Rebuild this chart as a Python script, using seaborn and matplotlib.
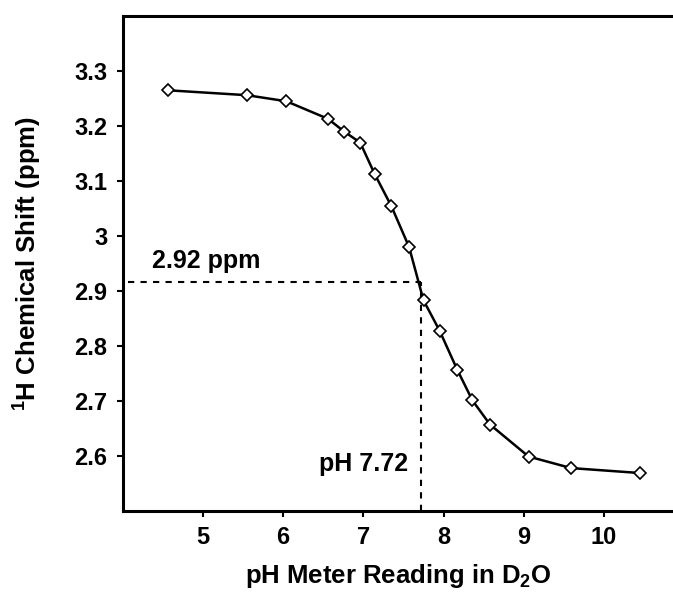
import matplotlib
matplotlib.use("Agg")
import matplotlib.pyplot as plt
import seaborn as sns
import pandas as pd

# Data
ph = [4.56, 5.55, 6.04, 6.56, 6.76, 6.96, 7.14, 7.35, 7.57, 7.75, 7.95,
      8.17, 8.36, 8.58, 9.06, 9.59, 10.45]
shift = [3.265, 3.256, 3.245, 3.213, 3.190, 3.170, 3.113, 3.054, 2.980,
         2.883, 2.828, 2.757, 2.701, 2.657, 2.599, 2.578, 2.569]
pka_ph = 7.72
pka_shift = 2.916
x_ticks = [5, 6, 7, 8, 9, 10]
y_ticks = [2.6, 2.7, 2.8, 2.9, 3.0, 3.1, 3.2, 3.3]
y_tick_labels = ["2.6", "2.7", "2.8", "2.9", "3", "3.1", "3.2", "3.3"]

sns.set_theme(style="ticks")
plt.rcParams["font.family"] = ["Liberation Sans", "DejaVu Sans"]
plt.rcParams["font.weight"] = "bold"
plt.rcParams["mathtext.fontset"] = "custom"
plt.rcParams["mathtext.rm"] = "Liberation Sans:bold"
plt.rcParams["mathtext.it"] = "Liberation Sans:bold"
plt.rcParams["mathtext.bf"] = "Liberation Sans:bold"

df = pd.DataFrame({"pH": ph, "shift": shift})

fig = plt.figure(figsize=(6.73, 5.95), dpi=100)
ax = fig.add_axes([0.1823, 0.1412, 0.8177, 0.8319])

# dashed guide lines
ax.plot([4.07, pka_ph], [pka_shift, pka_shift], color="black", lw=1.5,
        linestyle=(0, (3, 3)), zorder=1)
ax.plot([pka_ph, pka_ph], [2.5, pka_shift], color="black", lw=1.5,
        linestyle=(0, (3, 3)), zorder=1)

sns.lineplot(data=df, x="pH", y="shift", ax=ax, color="black", linewidth=1.8,
             marker="D", markersize=6.3, markerfacecolor="white",
             markeredgecolor="black", markeredgewidth=1.2, zorder=3)

ax.set_xlim(4, 10.86)
ax.set_ylim(2.5, 3.4)
ax.set_xticks(x_ticks)
ax.set_xticklabels([str(t) for t in x_ticks])
ax.set_yticks(y_ticks)
ax.set_yticklabels(y_tick_labels)

for s in ["left", "bottom", "top"]:
    ax.spines[s].set_linewidth(2.2)
    ax.spines[s].set_color("black")
ax.spines["right"].set_visible(False)

ax.tick_params(axis="both", which="major", direction="out", length=4,
               width=1.5, color="black", labelsize=17, pad=7,
               labelcolor="black")
for lab in ax.get_xticklabels() + ax.get_yticklabels():
    lab.set_fontweight("bold")

ax.set_xlabel("pH Meter Reading in D$_2$O", fontsize=18.5, fontweight="bold",
              labelpad=9, color="black")
ax.set_ylabel("$^1$H Chemical Shift (ppm)", fontsize=18.5, fontweight="bold",
              labelpad=22, color="black")

ax.text(4.36, 2.942, "2.92 ppm", fontsize=18, fontweight="bold",
        ha="left", va="baseline", color="black")
ax.text(7.553, 2.572, "pH 7.72", fontsize=18, fontweight="bold",
        ha="right", va="baseline", color="black")

fig.savefig("out.png", dpi=100, facecolor="white")
